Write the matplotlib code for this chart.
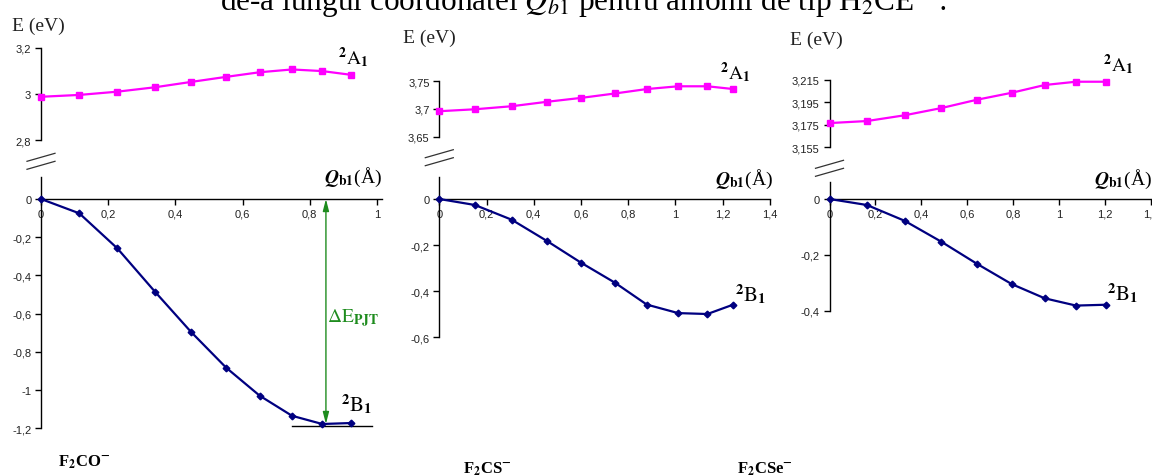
import matplotlib
matplotlib.use('Agg')
import matplotlib.pyplot as plt
from matplotlib.ticker import FuncFormatter, FixedLocator
from matplotlib.lines import Line2D

W, H = 1152, 477
plt.rcParams['font.family'] = ['Liberation Sans', 'DejaVu Sans']
plt.rcParams['mathtext.fontset'] = 'stix'

# ---------------- data ----------------
molecules = ['F$_\\mathbf{2}$CO$^{\\mathbf{-}}$', 'F$_\\mathbf{2}$CS$^{\\mathbf{-}}$', 'F$_\\mathbf{2}$CSe$^{\\mathbf{-}}$']

q_F2CO = [0, 0.114, 0.227, 0.339, 0.446, 0.551, 0.651, 0.747, 0.837, 0.922]
a1_F2CO = [2.988, 2.996, 3.010, 3.029, 3.052, 3.074, 3.094, 3.106, 3.099, 3.083]
b1_F2CO = [0, -0.075, -0.258, -0.485, -0.695, -0.883, -1.030, -1.135, -1.178, -1.173]

q_F2CS = [0, 0.151, 0.307, 0.456, 0.600, 0.744, 0.879, 1.012, 1.136, 1.246]
a1_F2CS = [3.696, 3.6995, 3.705, 3.713, 3.720, 3.728, 3.736, 3.741, 3.741, 3.736]
b1_F2CS = [0, -0.026, -0.090, -0.182, -0.276, -0.363, -0.458, -0.495, -0.499, -0.458]

q_F2CSe = [0, 0.163, 0.327, 0.487, 0.642, 0.794, 0.938, 1.074, 1.204]
a1_F2CSe = [3.1765, 3.1783, 3.1834, 3.1898, 3.1972, 3.2034, 3.2103, 3.2132, 3.2132]
b1_F2CSe = [0, -0.0215, -0.078, -0.153, -0.232, -0.305, -0.356, -0.382, -0.379]

upper_ticks = [[2.8, 3.0, 3.2], [3.65, 3.70, 3.75], [3.155, 3.175, 3.195, 3.215]]
lower_yticks = [[-1.2, -1.0, -0.8, -0.6, -0.4, -0.2, 0.0],
                [-0.6, -0.4, -0.2, 0.0],
                [-0.4, -0.2, 0.0]]
xticks = [[0, 0.2, 0.4, 0.6, 0.8, 1.0],
          [0, 0.2, 0.4, 0.6, 0.8, 1.0, 1.2, 1.4],
          [0, 0.2, 0.4, 0.6, 0.8, 1.0, 1.2, 1.4]]

series = [(q_F2CO, a1_F2CO, b1_F2CO), (q_F2CS, a1_F2CS, b1_F2CS), (q_F2CSe, a1_F2CSe, b1_F2CSe)]

# ---------------- layout (pixels) ----------------
layout = [
    dict(x0=41.0, xs=336.0, xmax=1.014, ulim=(2.8, 3.2), utop=48.7, ubot=141.3,
         y0=200.0, ys=191.0, llim=(-1.2, 0.115),
         elab=(38.5, 26), a1lab=(353, 58), b1lab=(357, 405), qlab=(382, 177), mol=(84, 462)),
    dict(x0=439.3, xs=236.0, xmax=1.4, ulim=(3.65, 3.75), utop=82.3, ubot=137.7,
         y0=200.0, ys=230.5, llim=(-0.6, 0.095),
         elab=(429, 38), a1lab=(735.5, 73), b1lab=(751, 295), qlab=(773, 179), mol=(487, 469)),
    dict(x0=829.5, xs=229.5, xmax=1.4, ulim=(3.155, 3.215), utop=80.7, ubot=148.3,
         y0=200.0, ys=279.0, llim=(-0.4, 0.061),
         elab=(816, 40), a1lab=(1118, 65), b1lab=(1123, 294), qlab=(1152, 179), mol=(765, 469)),
]

MAG = '#FF00FF'
NAVY = '#000080'
GREEN = '#1E8C1E'

def fx(px):
    return px / W

def fy(py):
    return 1 - py / H

def fmt(v, pos=None):
    s = ('%g' % round(v, 4)).replace('.', ',')
    if s in ('-0',):
        s = '0'
    return s

fig = plt.figure(figsize=(W / 100, H / 100), dpi=100)

for i, (lay, (q, a1, b1)) in enumerate(zip(layout, series)):
    width = lay['xmax'] * lay['xs'] / W
    # upper axes
    axu = fig.add_axes([fx(lay['x0']), fy(lay['ubot']), width, (lay['ubot'] - lay['utop']) / H])
    axu.set_xlim(0, lay['xmax'])
    axu.set_ylim(*lay['ulim'])
    for s in ['top', 'right', 'bottom']:
        axu.spines[s].set_visible(False)
    axu.spines['left'].set_linewidth(1.0)
    axu.set_xticks([])
    axu.yaxis.set_major_locator(FixedLocator(upper_ticks[i]))
    axu.yaxis.set_major_formatter(FuncFormatter(fmt))
    axu.tick_params(axis='y', direction='out', length=4, width=1, pad=3, labelsize=8, labelcolor='#222222')
    axu.patch.set_alpha(0)
    axu.plot(q, a1, color=MAG, lw=1.6, marker='s', ms=4.3, clip_on=False, zorder=3)

    # lower axes
    ltop = lay['y0'] - lay['llim'][1] * lay['ys']
    lbot = lay['y0'] - lay['llim'][0] * lay['ys']
    axl = fig.add_axes([fx(lay['x0']), fy(lbot), width, (lbot - ltop) / H])
    axl.set_xlim(0, lay['xmax'])
    axl.set_ylim(*lay['llim'])
    for s in ['top', 'right']:
        axl.spines[s].set_visible(False)
    axl.spines['bottom'].set_position(('data', 0))
    axl.spines['left'].set_linewidth(1.0)
    axl.spines['bottom'].set_linewidth(1.0)
    axl.xaxis.set_major_locator(FixedLocator(xticks[i]))
    axl.yaxis.set_major_locator(FixedLocator(lower_yticks[i]))
    axl.xaxis.set_major_formatter(FuncFormatter(fmt))
    axl.yaxis.set_major_formatter(FuncFormatter(fmt))
    axl.tick_params(axis='both', direction='out', length=4, width=1, pad=3, labelsize=8, labelcolor='#222222')
    axl.patch.set_alpha(0)
    axl.plot(q, b1, color=NAVY, lw=1.6, marker='D', ms=3.4, clip_on=False, zorder=3)

    # break marks
    ax0 = lay['x0']
    ub = lay['ubot']
    for d in (0, 8):
        fig.add_artist(Line2D([fx(ax0 - 14), fx(ax0 + 14)], [fy(ub + 21 + d), fy(ub + 13 + d)],
                              color='#333333', lw=0.9))

    # labels
    fig.text(fx(lay['elab'][0]), fy(lay['elab'][1]), 'E (eV)', family='Liberation Serif',
             fontsize=14, ha='center', va='center', color='#222222')
    fig.text(fx(lay['a1lab'][0]), fy(lay['a1lab'][1]), r'$^{\mathbf{2}}\mathrm{A}_{\mathbf{1}}$',
             fontsize=14, ha='center', va='center')
    fig.text(fx(lay['b1lab'][0]), fy(lay['b1lab'][1]), r'$^{\mathbf{2}}\mathrm{B}_{\mathbf{1}}$',
             fontsize=15, ha='center', va='center')
    fig.text(fx(lay['qlab'][0]), fy(lay['qlab'][1]), r'$\mathbfit{Q}_{\mathbf{b1}}$(Å)',
             fontsize=14, ha='right', va='center', family='Liberation Serif')
    fig.text(fx(lay['mol'][0]), fy(lay['mol'][1]), molecules[i], family='Liberation Serif',
             fontsize=12, fontweight='bold', ha='center', va='center')

    if i == 0:
        emin = min(b1)
        xa = q[-2] + 0.011
        axl.annotate('', xy=(xa, emin), xytext=(xa, 0),
                     arrowprops=dict(arrowstyle='<|-|>,head_length=0.7,head_width=0.18',
                                     color=GREEN, lw=1.0, shrinkA=0, shrinkB=0), zorder=2)
        axl.plot([q[-3], q[-1] + 0.062], [emin - 0.01, emin - 0.01], color='black', lw=1.0, clip_on=False)
        axl.text(xa + 0.003, -0.62, r'$\Delta\mathrm{E}_{\mathbf{PJT}}$', color=GREEN, fontsize=14,
                 ha='left', va='center')

# title (cut at top as in the reference)
fig.text(fx(220), fy(10), r'de-a lungul coordonatei $Q_{b1}$ pentru anionii de tip H$_2$CE$^{-}$ :',
         family='Liberation Serif', fontsize=22.5, ha='left', va='baseline', color='black')

fig.savefig('out.png', dpi=100)
